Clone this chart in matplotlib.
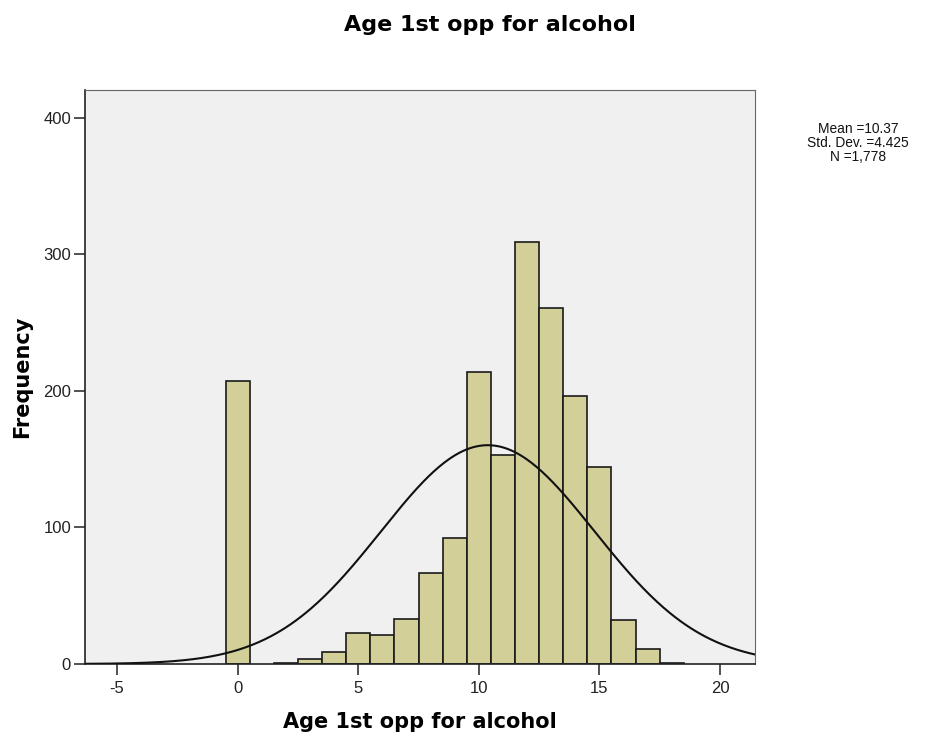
import numpy as np
import matplotlib.pyplot as plt

plt.rcParams['font.family'] = ['Liberation Sans', 'DejaVu Sans']
plt.rcParams['axes.unicode_minus'] = False

# Age values (bin centres) and frequencies
ages = [0, 2, 3, 4, 5, 6, 7, 8, 9, 10, 11, 12, 13, 14, 15, 16, 17, 18]
counts = [207, 1, 4, 9, 23, 21, 33, 67, 92, 214, 153, 309, 261, 196, 144, 32, 11, 1]

mean_val = 10.37
std_val = 4.425
n_total = 1778
bin_width = 1.0

fig = plt.figure(figsize=(9.45, 7.4), dpi=100)
ax = fig.add_axes([85 / 945, 1 - 664 / 740, 670 / 945, 574 / 740])
ax.set_facecolor('#F0F0F0')

ax.bar(ages, counts, width=bin_width, color='#D3CF98', edgecolor='#1a1a1a',
       linewidth=1.2, zorder=2)

# normal curve scaled to counts
xs = np.linspace(-6.4, 21.5, 400)
ys = n_total * bin_width / (std_val * np.sqrt(2 * np.pi)) * np.exp(-0.5 * ((xs - mean_val) / std_val) ** 2)
ax.plot(xs, ys, color='#111111', linewidth=1.5, zorder=3)

ax.set_xlim(-6.33, 21.45)
ax.set_ylim(0, 420.5)
ax.set_xticks([-5, 0, 5, 10, 15, 20])
ax.set_yticks([0, 100, 200, 300, 400])
ax.tick_params(axis='both', direction='out', length=8, width=1.2, color='#333333',
               labelsize=12, labelcolor='#222222', pad=2)
ax.tick_params(axis='x', pad=4)

for side in ['top', 'right']:
    ax.spines[side].set_color('#666666')
    ax.spines[side].set_linewidth(0.8)
for side in ['left', 'bottom']:
    ax.spines[side].set_color('#222222')
    ax.spines[side].set_linewidth(1.2)

label_font = {'family': 'DejaVu Sans', 'size': 15, 'weight': 'bold'}
ax.set_xlabel('Age 1st opp for alcohol', fontdict=label_font, va='center')
ax.xaxis.set_label_coords(0.5, (664 - 722) / 574)
ax.set_ylabel('Frequency', fontdict=label_font, va='center')
ax.yaxis.set_label_coords((22 - 85) / 670, 0.5)

fig.text(490 / 945, 1 - 25 / 740, 'Age 1st opp for alcohol', family='DejaVu Sans',
         fontsize=16, fontweight='bold', ha='center', va='center')

stats = 'Mean =10.37\nStd. Dev. =4.425\nN =1,778'
fig.text(858 / 945, 1 - 143 / 740, stats, fontsize=9.9, ha='center', va='center',
         linespacing=1.0, color='#111111')

fig.savefig('out.png', dpi=100)
